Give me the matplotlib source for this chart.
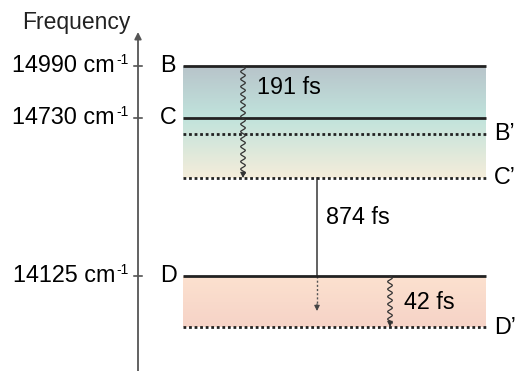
import numpy as np
import matplotlib.pyplot as plt
from matplotlib.colors import LinearSegmentedColormap

plt.rcParams['font.family'] = ['Liberation Sans', 'DejaVu Sans']

# Schematic level heights (arbitrary units, not to scale)
solid_levels = ['B', 'C', 'D']
solid_heights = [305, 253, 95]
solid_freqs = ['14990', '14730', '14125']
dotted_levels = ['B\u2019', 'C\u2019', 'D\u2019']
dotted_heights = [237, 193, 44]

# Relaxation steps: (from height, to height, lifetime label)
wavy_steps = [(305, 193, '191 fs'), (95, 44, '42 fs')]
slow_step = (193, 95, '874 fs')

x0, x1 = 183, 486
axis_x = 138
fs = 16.8

fig = plt.figure(figsize=(5.16, 3.71), dpi=100)
ax = fig.add_axes([0, 0, 1, 1])
ax.set_xlim(0, 516)
ax.set_ylim(0, 371)
ax.axis('off')

# gradient bands
top_cmap = LinearSegmentedColormap.from_list(
    'top', [(0, '#f5edda'), (0.54, '#c0e3dc'), (1, '#b8c4ca')])
low_cmap = LinearSegmentedColormap.from_list('low', ['#f6d3c7', '#fce1cf'])
grad = np.linspace(0, 1, 256).reshape(-1, 1)
ax.imshow(grad, cmap=top_cmap, origin='lower', aspect='auto',
          extent=(x0, x1, dotted_heights[1], solid_heights[0]), zorder=0)
ax.imshow(grad, cmap=low_cmap, origin='lower', aspect='auto',
          extent=(x0, x1, dotted_heights[2], solid_heights[2]), zorder=0)

# frequency axis
ax.annotate('', xy=(axis_x, 339), xytext=(axis_x, 0),
            arrowprops=dict(arrowstyle='-|>', color='#555555', lw=1.3,
                            mutation_scale=10, shrinkA=0, shrinkB=0))
ax.text(22, 348, 'Frequency', fontsize=16.5, va='center', ha='left', color='#222222')

for name, h, f in zip(solid_levels, solid_heights, solid_freqs):
    ax.plot([x0, x1], [h, h], color='#222222', lw=2.0, solid_capstyle='butt', zorder=3)
    ax.plot([axis_x - 4, axis_x + 4], [h, h], color='#444444', lw=1.1)
    ax.text(168, h + 1, name, fontsize=fs, ha='center', va='center')
    ax.text(115, h + 1, f + ' cm', fontsize=fs, ha='right', va='center')
    ax.text(116, h + 6, '-1', fontsize=10, ha='left', va='center')

for name, h in zip(dotted_levels, dotted_heights):
    ax.plot([x0, x1], [h, h], color='#222222', lw=2.0, ls=(0, (1, 1)),
            dash_capstyle='butt', zorder=3)
    ax.text(494, h, name, fontsize=fs, ha='left', va='center')


def wavy_arrow(x, y_top, y_bot, amp=2.3, period=7.5):
    y = np.linspace(y_top, y_bot + 4, 400)
    xs = x + amp * np.sin(2 * np.pi * (y_top - y) / period)
    ax.plot(xs, y, color='#333333', lw=0.9, zorder=4)
    ax.annotate('', xy=(x, y_bot), xytext=(x, y_bot + 6),
                arrowprops=dict(arrowstyle='-|>', color='#333333', lw=0.8,
                                mutation_scale=8, shrinkA=0, shrinkB=0), zorder=4)


wavy_x = [243, 390]
label_dy = [-22, None]
for (ht, hb, lab), wx, dy in zip(wavy_steps, wavy_x, label_dy):
    wavy_arrow(wx, ht, hb)
    ty = ht + dy if dy is not None else (ht + hb) / 2 - 1
    ax.text(wx + 14, ty, lab, fontsize=fs, ha='left', va='center')

# slow internal conversion C' -> D, then dotted continuation into the D band
sx = 317
ax.plot([sx, sx], [slow_step[0], slow_step[1]], color='#555555', lw=1.3, zorder=2)
ax.text(sx + 9, (slow_step[0] + slow_step[1]) / 2 + 9, slow_step[2],
        fontsize=fs, ha='left', va='center')
ax.plot([sx, sx], [slow_step[1], 66], color='#555555', lw=1.0, ls=(0, (1.5, 1.5)), zorder=2)
ax.annotate('', xy=(sx, 60), xytext=(sx, 67),
            arrowprops=dict(arrowstyle='-|>', color='#444444', lw=0.8,
                            mutation_scale=8, shrinkA=0, shrinkB=0))

fig.savefig('out.png', dpi=100)
